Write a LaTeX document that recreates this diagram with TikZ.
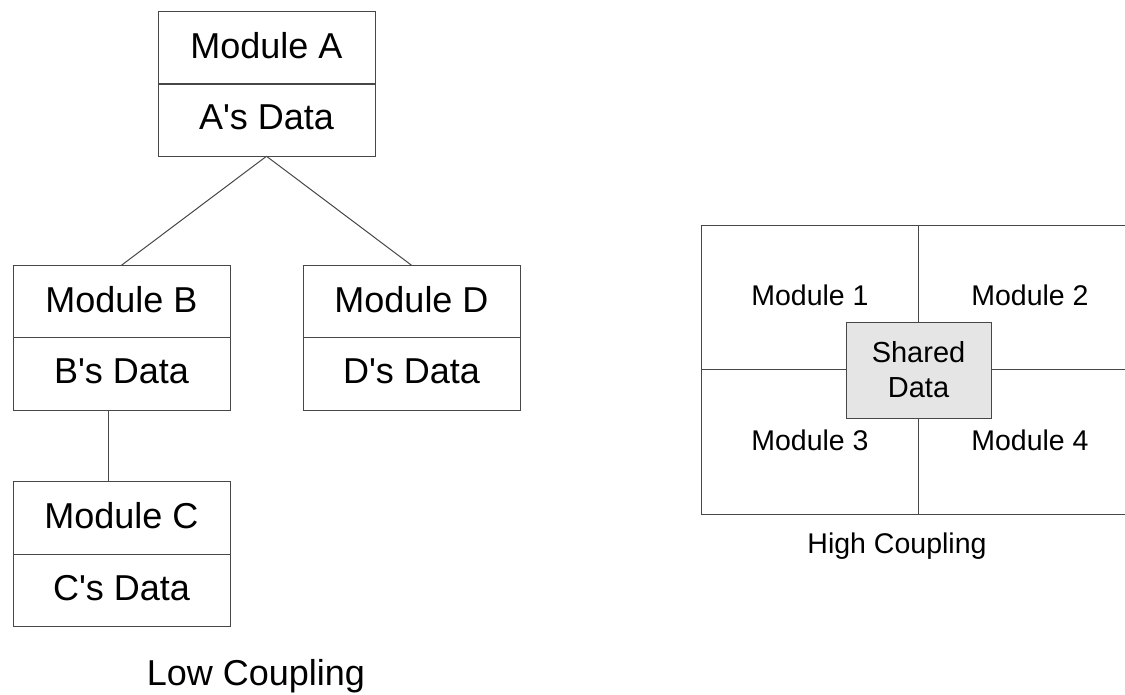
\documentclass[tikz,border=0pt]{standalone}
\usepackage{fontspec}
\setmainfont{Liberation Sans}[Ligatures=TeXOff]
\begin{document}
\begin{tikzpicture}[x=1pt,y=-1pt,
  line/.style={draw=black!72,line width=1pt},
  cell/.style={line,rectangle,minimum width=217pt,minimum height=72.5pt,inner sep=0pt,outer sep=0pt,text depth=5pt,font=\fontsize{36}{40}\selectfont},
  quad/.style={inner sep=0pt,font=\fontsize{28.5}{32}\selectfont},
  shared/.style={line,fill=black!10,rectangle,minimum width=145pt,minimum height=96pt,inner sep=0pt,outer sep=0pt,align=center,font=\fontsize{29}{35}\selectfont},
  caption/.style={inner sep=0pt}]
\useasboundingbox (0,0) rectangle (1125,694);
% Low coupling
\node[cell] (A1) at (266.5,48) {Module A};
\node[cell] (A2) at (266.5,120) {A's Data};
\node[cell] (B1) at (121.5,301.5) {Module B};
\node[cell] (B2) at (121.5,374) {B's Data};
\node[cell] (C1) at (121.5,518) {Module C};
\node[cell] (C2) at (121.5,590.5) {C's Data};
\node[cell] (D1) at (411.5,301.5) {Module D};
\node[cell] (D2) at (411.5,374) {D's Data};
\draw[line] (A2.south) -- (B1.north);
\draw[line] (A2.south) -- (D1.north);
\draw[line] ([xshift=-13.5pt]B2.south) -- ([xshift=-13.5pt]C1.north);
\node[caption,font=\fontsize{36}{40}\selectfont] (low) at (256,676) {Low Coupling};
% High coupling
\coordinate (tl) at (701,225);
\coordinate (tr) at (1125,225);
\coordinate (bl) at (701,514);
\coordinate (br) at (1125,514);
\coordinate (vt) at (918,225);
\coordinate (vb) at (918,514);
\coordinate (hl) at (701,369);
\coordinate (hr) at (1125,369);
\draw[line] (tr) -- (tl) -- (bl) -- (br);
\draw[line] (vt) -- (vb);
\draw[line] (hl) -- (hr);
\node[shared] (S) at (918.5,370) {Shared\\Data};
\node[quad] (M1) at (810,295.5) {Module 1};
\node[quad] (M2) at (1030,295.5) {Module 2};
\node[quad] (M3) at (810,440.5) {Module 3};
\node[quad] (M4) at (1030,440.5) {Module 4};
\node[caption,font=\fontsize{28.5}{32}\selectfont] (high) at (897,546) {High Coupling};
\end{tikzpicture}
\end{document}
